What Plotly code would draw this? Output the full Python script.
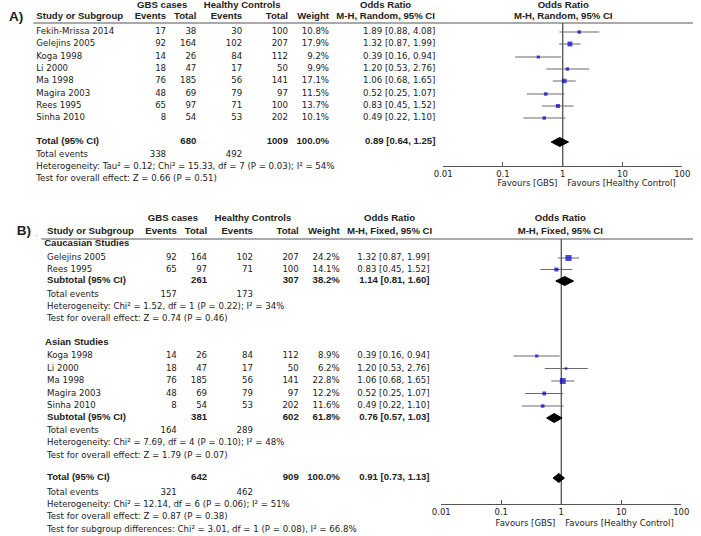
import plotly.graph_objects as go

W, H = 701, 536

# ---------------- Data: panel A (random effects, all studies) ----------------
studies_A = ["Fekih-Mrissa 2014", "Gelejins 2005", "Koga 1998", "Li 2000",
             "Ma 1998", "Magira 2003", "Rees 1995", "Sinha 2010"]
gbs_events_A = [17, 92, 14, 18, 76, 48, 65, 8]
gbs_total_A = [38, 164, 26, 47, 185, 69, 97, 54]
hc_events_A = [30, 102, 84, 17, 56, 79, 71, 53]
hc_total_A = [100, 207, 112, 50, 141, 97, 100, 202]
weight_A = [10.8, 17.9, 9.2, 9.9, 17.1, 11.5, 13.7, 10.1]
or_A = [1.89, 1.32, 0.39, 1.20, 1.06, 0.52, 0.83, 0.49]
lo_A = [0.88, 0.87, 0.16, 0.53, 0.68, 0.25, 0.45, 0.22]
hi_A = [4.08, 1.99, 0.94, 2.76, 1.65, 1.07, 1.52, 1.10]
total_A = {"gbs_total": 680, "hc_total": 1009, "weight": 100.0,
           "or": 0.89, "lo": 0.64, "hi": 1.25, "gbs_events": 338, "hc_events": 492}
stats_A = ["Heterogeneity: Tau² = 0.12; Chi² = 15.33, df = 7 (P = 0.03); I² = 54%",
           "Test for overall effect: Z = 0.66 (P = 0.51)"]

# ---------------- Data: panel B (fixed effects, by subgroup) ----------------
cau_studies = ["Gelejins 2005", "Rees 1995"]
cau_gbs_events = [92, 65]
cau_gbs_total = [164, 97]
cau_hc_events = [102, 71]
cau_hc_total = [207, 100]
cau_weight = [24.2, 14.1]
cau_or = [1.32, 0.83]
cau_lo = [0.87, 0.45]
cau_hi = [1.99, 1.52]
cau_sub = {"gbs_total": 261, "hc_total": 307, "weight": 38.2,
           "or": 1.14, "lo": 0.81, "hi": 1.60, "gbs_events": 157, "hc_events": 173}
cau_stats = ["Heterogeneity: Chi² = 1.52, df = 1 (P = 0.22); I² = 34%",
             "Test for overall effect: Z = 0.74 (P = 0.46)"]

asi_studies = ["Koga 1998", "Li 2000", "Ma 1998", "Magira 2003", "Sinha 2010"]
asi_gbs_events = [14, 18, 76, 48, 8]
asi_gbs_total = [26, 47, 185, 69, 54]
asi_hc_events = [84, 17, 56, 79, 53]
asi_hc_total = [112, 50, 141, 97, 202]
asi_weight = [8.9, 6.2, 22.8, 12.2, 11.6]
asi_or = [0.39, 1.20, 1.06, 0.52, 0.49]
asi_lo = [0.16, 0.53, 0.68, 0.25, 0.22]
asi_hi = [0.94, 2.76, 1.65, 1.07, 1.10]
asi_sub = {"gbs_total": 381, "hc_total": 602, "weight": 61.8,
           "or": 0.76, "lo": 0.57, "hi": 1.03, "gbs_events": 164, "hc_events": 289}
asi_stats = ["Heterogeneity: Chi² = 7.69, df = 4 (P = 0.10); I² = 48%",
             "Test for overall effect: Z = 1.79 (P = 0.07)"]

total_B = {"gbs_total": 642, "hc_total": 909, "weight": 100.0,
           "or": 0.91, "lo": 0.73, "hi": 1.13, "gbs_events": 321, "hc_events": 462}
stats_B = ["Heterogeneity: Chi² = 12.14, df = 6 (P = 0.06); I² = 51%",
           "Test for overall effect: Z = 0.87 (P = 0.38)",
           "Test for subgroup differences: Chi² = 3.01, df = 1 (P = 0.08), I² = 66.8%"]

tick_vals = [0.01, 0.1, 1, 10, 100]
tick_text = ["0.01", "0.1", "1", "10", "100"]

# ---------------- Styles / layout positions (pixels) ----------------
FONT = "DejaVu Sans"
FONTB = "Liberation Sans"
FS = 8.6
FSB = 9.6
TXT = "#222222"
GRAY = "#555555"
BLUE = "#0000c0"

rowA = [32, 44, 57, 69, 81, 94, 106, 118]
rowA_total, rowA_events, rowA_stats = 142, 155, [167, 179]
rowB_cau = [258, 269.5]
rowB_cau_sub, rowB_cau_events, rowB_cau_stats = 281, 295, [307, 319]
rowB_asi_head, rowB_cau_head = 343, 244
rowB_asi = [356, 368.5, 381, 393.5, 406]
rowB_asi_sub, rowB_asi_events, rowB_asi_stats = 418, 431, [443, 456]
rowB_total, rowB_total_events, rowB_total_stats = 478, 493, [505, 517, 530]

colA = dict(name=28, ge=161, gt=192, he=239, ht=286, w=328, orr=437)
colB = dict(name=39, ge=172, gt=203, he=250, ht=297, w=339, orr=431)

texts = []   # (x_px, y_px, string, anchor, bold, size, color)


def text(x, y, s, anchor="left", bold=False, size=None, color=TXT):
    if size is None:
        size = FSB if bold else FS
    texts.append((x, y, s, anchor, bold, size, color))


def fmt_or(o, l, h):
    return f"{o:.2f} [{l:.2f}, {h:.2f}]"


def study_rows(col, ys, names, ge, gt, he, ht, w, o, l, h):
    for i, y in enumerate(ys):
        text(col["name"], y, names[i])
        text(col["ge"], y, str(ge[i]), "right")
        text(col["gt"], y, str(gt[i]), "right")
        text(col["he"], y, str(he[i]), "right")
        text(col["ht"], y, str(ht[i]), "right")
        text(col["w"], y, f"{w[i]:.1f}%", "right")
        text(col["orr"], y, fmt_or(o[i], l[i], h[i]), "right")


def pooled_row(col, y, label, d):
    text(col["name"], y, label, bold=True)
    text(col["gt"], y, str(d["gbs_total"]), "right", bold=True)
    text(col["ht"], y, str(d["hc_total"]), "right", bold=True)
    text(col["w"], y, f"{d['weight']:.1f}%", "right", bold=True)
    text(col["orr"], y, fmt_or(d["or"], d["lo"], d["hi"]), "right", bold=True)


def events_row(col, y, d):
    text(col["name"], y, "Total events")
    text(col["ge"], y, str(d["gbs_events"]), "right")
    text(col["he"], y, str(d["hc_events"]), "right")


fig = go.Figure()


def forest(xa, ya, ys, o, l, h, w):
    xs, yy = [], []
    for i, y in enumerate(ys):
        xs += [l[i], h[i], None]
        yy += [y, y, None]
    fig.add_trace(go.Scatter(x=xs, y=yy, mode="lines", xaxis=xa, yaxis=ya,
                             line=dict(color="#6a6a6a", width=1.2),
                             hoverinfo="skip", showlegend=False))
    fig.add_trace(go.Scatter(x=o, y=ys, mode="markers", xaxis=xa, yaxis=ya,
                             marker=dict(symbol="square", color=BLUE,
                                         size=[1.5 + 0.19 * v for v in w],
                                         line=dict(width=0)),
                             showlegend=False))


def diamond(xa, ya, y, d, hh=4.5):
    fig.add_trace(go.Scatter(x=[d["lo"], d["or"], d["hi"], d["or"], d["lo"]],
                             y=[y, y - hh, y, y + hh, y], mode="lines",
                             fill="toself", fillcolor="black",
                             line=dict(color="black", width=1),
                             xaxis=xa, yaxis=ya, showlegend=False,
                             hoverinfo="skip"))


def vline(xa, ya, y0, y1):
    fig.add_trace(go.Scatter(x=[1, 1], y=[y0, y1], mode="lines", xaxis=xa,
                             yaxis=ya, line=dict(color="#444444", width=1.2),
                             hoverinfo="skip", showlegend=False))


# ---------------- Panel A ----------------
text(0, 18, "A)", bold=True, size=13.5)
text(157, 6, "GBS cases", "center", bold=True)
text(239, 6, "Healthy Controls", "center", bold=True)
text(386, 6, "Odds Ratio", "center", bold=True)
text(568, 6, "Odds Ratio", "center", bold=True)
text(colA["name"], 17, "Study or Subgroup", bold=True)
text(colA["ge"], 17, "Events", "right", bold=True)
text(colA["gt"], 17, "Total", "right", bold=True)
text(colA["he"], 17, "Events", "right", bold=True)
text(colA["ht"], 17, "Total", "right", bold=True)
text(colA["w"], 17, "Weight", "right", bold=True)
text(386, 17, "M-H, Random, 95% CI", "center", bold=True)
text(568, 17, "M-H, Random, 95% CI", "center", bold=True)

study_rows(colA, rowA, studies_A, gbs_events_A, gbs_total_A, hc_events_A,
           hc_total_A, weight_A, or_A, lo_A, hi_A)
pooled_row(colA, rowA_total, "Total (95% CI)", total_A)
events_row(colA, rowA_events, total_A)
for y, s in zip(rowA_stats, stats_A):
    text(colA["name"], y, s)
text(562, 184, "Favours [GBS]", "right", size=8.5)
text(572, 184, "Favours [Healthy Control]", "left", size=8.5)

vline("x", "y", 23, 166)
forest("x", "y", rowA, or_A, lo_A, hi_A, weight_A)
diamond("x", "y", rowA_total, total_A)

# ---------------- Panel B ----------------
text(8, 232, "B)", bold=True, size=13.5)
text(27, 234, ".", size=8, color="#999999")
text(168, 219, "GBS cases", "center", bold=True)
text(250, 219, "Healthy Controls", "center", bold=True)
text(390, 219, "Odds Ratio", "center", bold=True)
text(565, 219, "Odds Ratio", "center", bold=True)
text(colB["name"], 232, "Study or Subgroup", bold=True)
text(colB["ge"], 232, "Events", "right", bold=True)
text(colB["gt"], 232, "Total", "right", bold=True)
text(colB["he"], 232, "Events", "right", bold=True)
text(colB["ht"], 232, "Total", "right", bold=True)
text(colB["w"], 232, "Weight", "right", bold=True)
text(390, 232, "M-H, Fixed, 95% CI", "center", bold=True)
text(565, 232, "M-H, Fixed, 95% CI", "center", bold=True)

text(36, rowB_cau_head, "Caucasian Studies", bold=True)
study_rows(colB, rowB_cau, cau_studies, cau_gbs_events, cau_gbs_total,
           cau_hc_events, cau_hc_total, cau_weight, cau_or, cau_lo, cau_hi)
pooled_row(colB, rowB_cau_sub, "Subtotal (95% CI)", cau_sub)
events_row(colB, rowB_cau_events, cau_sub)
for y, s in zip(rowB_cau_stats, cau_stats):
    text(colB["name"], y, s)

text(37, rowB_asi_head, "Asian Studies", bold=True)
study_rows(colB, rowB_asi, asi_studies, asi_gbs_events, asi_gbs_total,
           asi_hc_events, asi_hc_total, asi_weight, asi_or, asi_lo, asi_hi)
pooled_row(colB, rowB_asi_sub, "Subtotal (95% CI)", asi_sub)
events_row(colB, rowB_asi_events, asi_sub)
for y, s in zip(rowB_asi_stats, asi_stats):
    text(colB["name"], y, s)

pooled_row(colB, rowB_total, "Total (95% CI)", total_B)
events_row(colB, rowB_total_events, total_B)
for y, s in zip(rowB_total_stats, stats_B):
    text(colB["name"], y, s)
text(560, 524, "Favours [GBS]", "right", size=8.5)
text(570, 524, "Favours [Healthy Control]", "left", size=8.5)

vline("x2", "y2", 239, 504)
forest("x2", "y2", rowB_cau, cau_or, cau_lo, cau_hi, cau_weight)
forest("x2", "y2", rowB_asi, asi_or, asi_lo, asi_hi, asi_weight)
diamond("x2", "y2", rowB_cau_sub, cau_sub)
diamond("x2", "y2", rowB_asi_sub, asi_sub)
diamond("x2", "y2", rowB_total, total_B)

# ---------------- Text layer: scatter text on a full-page pixel axis ----------
POS = {"left": "middle right", "right": "middle left", "center": "middle center"}
groups = {}
for (x, y, s, anchor, bold, size, color) in texts:
    key = (anchor, bold, size, color)
    groups.setdefault(key, ([], [], []))
    g = groups[key]
    g[0].append(x)
    g[1].append(y)
    g[2].append(f"<b>{s}</b>" if bold else s)
for (anchor, bold, size, color), (xs, ys, ss) in groups.items():
    fig.add_trace(go.Scatter(
        x=xs, y=ys, text=ss, mode="text", textposition=POS[anchor],
        marker=dict(size=0),
        textfont=dict(family=FONTB if bold else FONT, size=size, color=color),
        xaxis="x3", yaxis="y3", cliponaxis=False, hoverinfo="skip",
        showlegend=False))

# ---------------- Axes / layout ----------------
xcommon = dict(type="log", range=[-2, 2], tickvals=tick_vals, ticktext=tick_text,
               showline=True, linecolor=GRAY, linewidth=1.2, ticks="inside",
               ticklen=4, tickcolor=GRAY, tickwidth=1.2, showgrid=False,
               zeroline=False, tickfont=dict(family=FONT, size=8.5, color=TXT),
               fixedrange=True)
ycommon = dict(visible=False, showgrid=False, zeroline=False, fixedrange=True)

fig.update_layout(
    width=W, height=H,
    margin=dict(l=0, r=0, t=0, b=0),
    paper_bgcolor="white", plot_bgcolor="rgba(0,0,0,0)",
    showlegend=False,
    xaxis=dict(domain=[445 / W, 690 / W], anchor="y", **xcommon),
    yaxis=dict(domain=[1 - 166 / H, 1 - 23 / H], range=[166, 23], **ycommon),
    xaxis2=dict(domain=[443 / W, 689 / W], anchor="y2", **xcommon),
    yaxis2=dict(domain=[1 - 504 / H, 1 - 239 / H], range=[504, 239], **ycommon),
    xaxis3=dict(domain=[0, 1], range=[0, W], anchor="y3", **ycommon),
    yaxis3=dict(domain=[0, 1], range=[H, 0], anchor="x3", **ycommon),
    shapes=[
        dict(type="line", xref="paper", yref="paper", x0=25 / W, x1=1,
             y0=1 - 23 / H, y1=1 - 23 / H, line=dict(color=GRAY, width=1.2)),
        dict(type="line", xref="paper", yref="paper", x0=33 / W, x1=1,
             y0=1 - 239 / H, y1=1 - 239 / H, line=dict(color=GRAY, width=1.2)),
    ],
)

fig.write_html("out.html", config={"displayModeBar": False},
               post_script="document.body.style.margin='0px';"
                           "document.body.style.overflow='hidden';")
